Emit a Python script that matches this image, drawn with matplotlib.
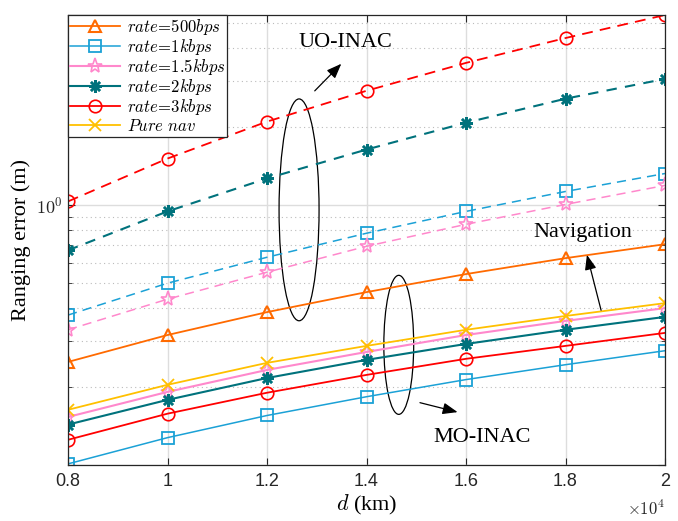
import matplotlib
matplotlib.use("Agg")
import matplotlib.pyplot as plt
from matplotlib.patches import Ellipse
from matplotlib.ticker import FixedLocator, NullFormatter, FuncFormatter

plt.rcParams['mathtext.fontset'] = 'cm'

# distance d in metres (axis shows x10^4)
d = [8000, 10000, 12000, 14000, 16000, 18000, 20000]

# UO-INAC (dashed)
uo_1k = [0.377, 0.500, 0.629, 0.778, 0.944, 1.126, 1.32]
uo_15k = [0.331, 0.434, 0.551, 0.693, 0.842, 1.004, 1.188]
uo_2k = [0.669, 0.944, 1.264, 1.632, 2.07, 2.56, 3.05]
uo_3k = [1.031, 1.507, 2.09, 2.746, 3.515, 4.38, 5.37]

# Navigation / MO-INAC (solid)
nav_500 = [0.249, 0.316, 0.387, 0.462, 0.542, 0.624, 0.706]
mo_1k = [0.101, 0.1274, 0.155, 0.183, 0.213, 0.243, 0.275]
mo_15k = [0.153, 0.191, 0.232, 0.272, 0.316, 0.358, 0.401]
mo_2k = [0.143, 0.178, 0.216, 0.2536, 0.292, 0.331, 0.371]
mo_3k = [0.125, 0.1575, 0.1896, 0.222, 0.256, 0.287, 0.322]
pure_nav = [0.163, 0.2034, 0.247, 0.287, 0.331, 0.374, 0.419]

labels = [r'$\mathit{rate}\!=\!\mathit{500bps}$',
          r'$\mathit{rate}\!=\!\mathit{1kbps}$',
          r'$\mathit{rate}\!=\!\mathit{1.5kbps}$',
          r'$\mathit{rate}\!=\!\mathit{2kbps}$',
          r'$\mathit{rate}\!=\!\mathit{3kbps}$',
          r'$\mathit{Pure\ nav}$']

c_orange = '#FF6A00'
c_cyan = '#1BA1D6'
c_pink = '#FF88CC'
c_teal = '#00727C'
c_red = '#FF0000'
c_yellow = '#FFC000'

fig = plt.figure(figsize=(6.78, 5.21), dpi=100)
ax = fig.add_axes([0.1003, 0.1075, 0.8806, 0.8637])

ms = 9
ax.plot(d, nav_500, '-', color=c_orange, marker='^', ms=ms, mfc='none', mew=1.5, lw=1.3,
        label=labels[0])
ax.plot(d, mo_1k, '-', color=c_cyan, marker='s', ms=8, mfc='none', mew=1.3, lw=1.1,
        label=labels[1])
ax.plot(d, mo_15k, '-', color=c_pink, marker='*', ms=11, mfc='none', mew=1.2, lw=1.5,
        label=labels[2])
ax.plot(d, mo_2k, '-', color=c_teal, marker=(8, 2, 0), ms=9, mew=1.8, lw=1.5,
        label=labels[3])
ax.plot(d, mo_3k, '-', color=c_red, marker='o', ms=ms, mfc='none', mew=1.2, lw=1.3,
        label=labels[4])
ax.plot(d, pure_nav, '-', color=c_yellow, marker='x', ms=8, mew=1.3, lw=1.3,
        label=labels[5])

ax.plot(d, uo_1k, '--', color=c_cyan, marker='s', ms=8, mfc='none', mew=1.3, lw=1.1,
        dashes=(6, 4))
ax.plot(d, uo_15k, '--', color=c_pink, marker='*', ms=11, mfc='none', mew=1.2, lw=1.1,
        dashes=(6, 4))
ax.plot(d, uo_2k, '--', color=c_teal, marker=(8, 2, 0), ms=9, mew=1.8, lw=1.5,
        dashes=(5, 4))
ax.plot(d, uo_3k, '--', color=c_red, marker='o', ms=ms, mfc='none', mew=1.2, lw=1.3,
        dashes=(6, 4))

ax.set_yscale('log')
ax.set_xlim(8000, 20000)
ax.set_ylim(0.1, 5.37)

ax.set_xticks(d)
ax.xaxis.set_major_formatter(FuncFormatter(lambda v, p: '%g' % (v / 1e4)))

ax.yaxis.set_major_locator(FixedLocator([0.1, 1.0]))
ax.yaxis.set_minor_locator(FixedLocator([0.2, 0.3, 0.4, 0.5, 0.6, 0.7, 0.8, 0.9, 2, 3, 4, 5]))
ax.set_yticklabels(['', r'$\mathsf{10^0}$'])
ax.yaxis.set_minor_formatter(NullFormatter())

ax.tick_params(which='both', direction='in', top=True, right=True, labelsize=13,
               color='#262626', labelcolor='#262626')
ax.tick_params(which='major', length=5)
ax.tick_params(which='minor', length=3)
ax.tick_params(axis='x', pad=6)
for lab in ax.get_xticklabels():
    lab.set_family('Liberation Sans')
ax.text(1.0, -0.098, r'$\times\mathsf{10^4}$', transform=ax.transAxes, fontsize=12,
        color='#262626', ha='right', va='center')

ax.grid(True, which='major', axis='x', color='#DDDDDD', lw=1.0)
ax.grid(True, which='major', axis='y', color='#DDDDDD', lw=1.0)
ax.grid(True, which='minor', axis='y', color='#BBBBBB', lw=0.8, ls=(0, (1, 3)))
ax.set_axisbelow(True)
for sp in ax.spines.values():
    sp.set_color('#262626')
    sp.set_linewidth(0.9)

ax.set_xlabel(r'$d$ (km)', fontsize=16, family='Liberation Serif', labelpad=2)
ax.set_ylabel('Ranging error (m)', fontsize=16, family='Liberation Serif', labelpad=4)

leg = ax.legend(loc='upper left', fontsize=12, fancybox=False, framealpha=1,
                edgecolor='#262626', borderpad=0.12, labelspacing=0.0,
                handlelength=3.0, handletextpad=0.4, borderaxespad=0)
leg.get_frame().set_linewidth(0.9)

# annotations
serif = 'Liberation Serif'
ax.add_patch(Ellipse((0.387, 0.567), 0.067, 0.493, transform=ax.transAxes,
                     fill=False, ec='black', lw=0.9))
ax.add_patch(Ellipse((0.554, 0.267), 0.050, 0.309, transform=ax.transAxes,
                     fill=False, ec='black', lw=0.9))
arrow = dict(arrowstyle='-|>,head_length=0.9,head_width=0.35', color='black', lw=0.9)
ax.annotate('', xy=(0.461, 0.896), xytext=(0.410, 0.827), xycoords='axes fraction',
            arrowprops=arrow)
ax.annotate('', xy=(0.868, 0.473), xytext=(0.894, 0.338), xycoords='axes fraction',
            arrowprops=arrow)
ax.annotate('', xy=(0.657, 0.116), xytext=(0.585, 0.140), xycoords='axes fraction',
            arrowprops=arrow)
ax.text(0.464, 0.938, 'UO-INAC', transform=ax.transAxes, fontsize=16, family=serif,
        ha='center', va='center')
ax.text(0.863, 0.516, 'Navigation', transform=ax.transAxes, fontsize=16, family=serif,
        ha='center', va='center')
ax.text(0.693, 0.062, 'MO-INAC', transform=ax.transAxes, fontsize=16, family=serif,
        ha='center', va='center')

fig.savefig('out.png', dpi=100)
